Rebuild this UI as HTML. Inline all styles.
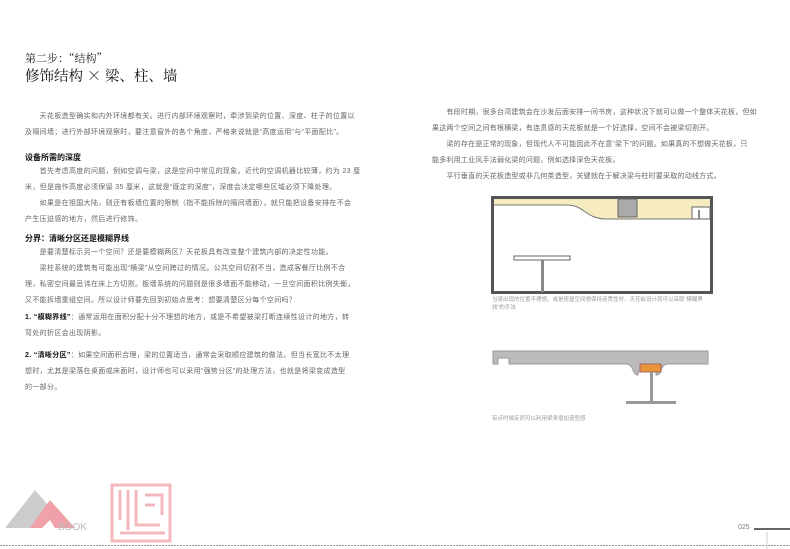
<!DOCTYPE html>
<html><head><meta charset="utf-8"><style>
body{margin:0;width:790px;height:549px;background:#fff;position:relative;overflow:hidden;font-family:"Liberation Sans","Noto Sans CJK SC",sans-serif;}
.t{position:absolute;font-size:7px;color:#666;white-space:nowrap;line-height:16px;letter-spacing:0.33px;}
.r{letter-spacing:0.22px;}
.h{position:absolute;font-size:8px;font-weight:bold;color:#111;white-space:nowrap;}
</style></head><body>
<div style="position:absolute;left:25px;top:50px;font-size:11px;color:#222;font-family:'Noto Serif CJK SC',serif;">第二步：“结构”</div>
<div style="position:absolute;left:25px;top:65px;font-size:14.5px;color:#111;font-family:'Noto Serif CJK SC',serif;">修饰结构 × 梁、柱、墙</div>

<div class="t" style="left:25px;top:109px">　　天花板造型确实和内外环境都有关。进行内部环境观察时，牵涉到梁的位置、深度、柱子的位置以</div>
<div class="t" style="left:25px;top:125px">及隔间墙；进行外部环境观察时，要注意窗外的各个角度，严格来说就是“高度运用”与“平面配比”。</div>
<div class="h" style="left:25px;top:152px">设备所需的深度</div>
<div class="t" style="left:25px;top:164px">　　首先考虑高度的问题，例如空调与梁，这是空间中常见的现象。近代的空调机器比较薄，约为 23 厘</div>
<div class="t" style="left:25px;top:180px">米，但是施作高度必须保留 35 厘米，这就是“既定的深度”，深度会决定哪些区域必须下降处理。</div>
<div class="t" style="left:25px;top:196px">　　如果是在祖国大陆，则还有板墙位置的限制（指不能拆除的隔间墙面），就只能把设备安排在不会</div>
<div class="t" style="left:25px;top:212px">产生压迫感的地方，然后进行修饰。</div>
<div class="h" style="left:25px;top:233px">分界：清晰分区还是模糊界线</div>
<div class="t" style="left:25px;top:245px">　　是要清楚标示另一个空间？还是要模糊两区？天花板具有改变整个建筑内部的决定性功能。</div>
<div class="t" style="left:25px;top:261px">　　梁柱系统的建筑有可能出现“横梁”从空间跨过的情况。公共空间切割不当，造成客餐厅比例不合</div>
<div class="t" style="left:25px;top:277px">理，私密空间最忌讳在床上方切割。板墙系统的问题则是很多墙面不能移动，一旦空间面积比例失衡，</div>
<div class="t" style="left:25px;top:293px">又不能拆墙重组空间。所以设计师要先回到初始点思考：想要清楚区分每个空间吗？</div>
<div class="t" style="left:25px;top:310px"><b style="color:#111">1. “模糊界线”</b>：通常运用在面积分配十分不理想的地方，或是不希望被梁打断连续性设计的地方，转</div>
<div class="t" style="left:25px;top:326px">弯处的折区会出现阴影。</div>
<div class="t" style="left:25px;top:348px"><b style="color:#111">2. “清晰分区”</b>：如果空间面积合理，梁的位置适当，通常会采取顺应建筑的做法。但当长宽比不太理</div>
<div class="t" style="left:25px;top:364px">想时，尤其是梁落在桌面或床面时，设计师也可以采用“强势分区”的处理方法，也就是将梁变成造型</div>
<div class="t" style="left:25px;top:380px">的一部分。</div>

<div class="t r" style="left:432px;top:105px">　　有段时期，很多台湾建筑会在沙发后面安排一间书房，这种状况下就可以做一个整体天花板，但如</div>
<div class="t r" style="left:432px;top:121px">果这两个空间之间有根横梁，有连贯感的天花板就是一个好选择，空间不会被梁切割开。</div>
<div class="t r" style="left:432px;top:137px">　　梁的存在是正常的现象，但现代人不可能因此不在意“梁下”的问题。如果真的不想做天花板，只</div>
<div class="t r" style="left:432px;top:153px">能多利用工业风手法弱化梁的问题，例如选择深色天花板。</div>
<div class="t r" style="left:432px;top:169px">　　平行垂直的天花板造型或非几何类造型，关键就在于解决梁与柱时要采取的动线方式。</div>

<svg style="position:absolute;left:0;top:0" width="790" height="549">
<path d="M494 199 H710 V219 H607 C585 219 585 205 567 205 H494 Z" fill="#f7ecc0"/>
<rect x="492.5" y="197.5" width="219" height="95" fill="none" stroke="#555" stroke-width="3"/>
<path d="M494 205 H567 C585 205 585 219 607 219 H692" fill="none" stroke="#777" stroke-width="1"/>
<rect x="618" y="199" width="19" height="18" fill="#aaa" stroke="#666"/>
<rect x="692" y="207" width="18" height="12" fill="#fff" stroke="#666"/>
<rect x="698" y="210" width="2" height="9" fill="#888"/>
<rect x="514" y="256" width="56" height="4" fill="#fff" stroke="#666"/>
<rect x="541" y="260" width="3" height="32" fill="#888"/>
<path d="M493 351 H708 V364 H668 C660 364 662 375 657 375 H656 V372 H638 V375 C632 375 634 364 626 364 H509 V358 H498 V364 H493 Z" fill="#bbb" stroke="#999"/>
<rect x="640" y="364" width="21" height="8" fill="#e8953a" stroke="#a66"/>
<rect x="650" y="372" width="3" height="30" fill="#999"/>
<rect x="626" y="401" width="50" height="3" fill="#999"/>
<polygon points="5,528 35,490 48,505 30,528" fill="#ccc"/>
<polygon points="30,528 50,500 75,528 55,528 50,520 42,528" fill="#f0a0a8"/>
<text x="58" y="530" font-size="10" fill="#bbb" font-family="Liberation Sans">BOOK</text>
<g fill="none" stroke="#f2b8bc" stroke-width="3">
<rect x="112" y="485" width="58" height="56"/>
<path d="M120 490 V520 M128 490 V530 M136 490 V525 H160 M145 495 H162 V515 M145 505 H155 M120 533 H165"/>
</g>
<line x1="0" y1="545.5" x2="790" y2="545.5" stroke="#999" stroke-dasharray="2,1"/>
<line x1="754" y1="529" x2="790" y2="529" stroke="#333" stroke-width="1.5"/>
<line x1="767" y1="532" x2="767" y2="549" stroke="#ccc"/>
</svg>
<div style="position:absolute;left:492px;top:296px;font-size:5.5px;color:#999;line-height:8px;">当梁出现的位置不理想，或是房屋空间想保持连贯性时，天花板设计就可以采取“模糊界<br>线”的手法</div>
<div style="position:absolute;left:492px;top:414px;font-size:5.5px;color:#999;">有点时候反而可以利用梁来增加造型感</div>
<div style="position:absolute;left:738px;top:524px;font-size:7px;color:#777;">025</div>
</body></html>
